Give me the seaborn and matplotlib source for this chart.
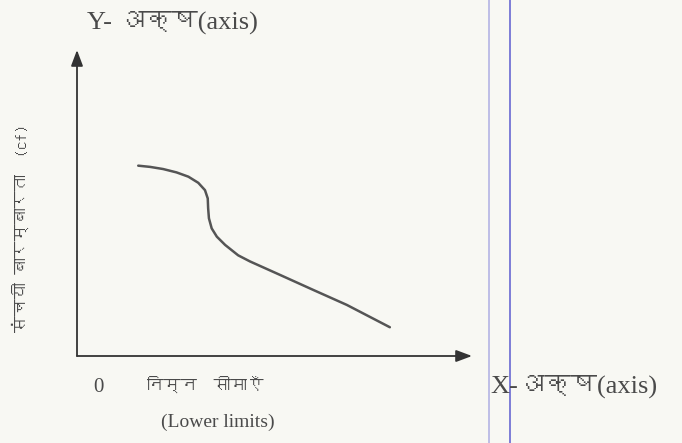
import matplotlib
matplotlib.use("Agg")
import matplotlib.pyplot as plt
import seaborn as sns
import pandas as pd
from matplotlib import font_manager
from matplotlib.ft2font import FT2Font
from matplotlib.lines import Line2D

# Ogive curve
lower_limits = [15.5, 18.5, 21.8, 25.2, 28.2, 30.7, 32.4, 33.1, 33.2, 33.4, 34.1, 35.4,
                37.5, 40.8, 43.8, 51.4, 59.8, 68.3, 79.2]
cum_freq = [62.2, 61.8, 61.1, 60.0, 58.6, 56.6, 54.2, 51.5, 48.3, 45.0, 41.7, 39.0,
            36.3, 32.9, 30.9, 26.5, 21.6, 16.7, 9.4]

y_title = "Y- अक्ष(axis)"
x_title = "X-अक्ष(axis)"
y_label = "संचयी बारम्बारता  (cf)"
x_label_hi = "निम्न  सीमाएँ"
x_label_en = "(Lower limits)"
origin_label = "0"


def find_devanagari_font():
    # look for any installed font that has Devanagari glyphs
    for f in font_manager.fontManager.ttflist:
        try:
            if FT2Font(f.fname).get_char_index(ord("अ")):
                return f.name
        except Exception:
            pass
    return None


sns.set_theme(style="white")
deva = find_devanagari_font()
serif_fam = ["Liberation Serif"] + ([deva] if deva else []) + ["DejaVu Sans"]
sans_fam = ([deva] if deva else []) + ["DejaVu Sans"]
plt.rcParams["font.family"] = serif_fam

bg = "#f8f8f3"
ink = "#4a4a4a"

fig = plt.figure(figsize=(6.82, 4.43), dpi=100, facecolor=bg)
ax = fig.add_axes([77 / 682, 87 / 443, 395 / 682, 306 / 443])
ax.set_facecolor("none")
ax.set_xlim(0, 100)
ax.set_ylim(0, 100)

df = pd.DataFrame({"x": lower_limits, "y": cum_freq})
sns.lineplot(data=df, x="x", y="y", sort=False, color="#555555", lw=1.8, ax=ax)
for l in ax.lines:
    l.set_solid_joinstyle("round")
    l.set_solid_capstyle("round")

for s in ax.spines.values():
    s.set_visible(False)
ax.set_xticks([])
ax.set_yticks([])
ax.set_xlabel("")
ax.set_ylabel("")

arrow = dict(arrowstyle="-|>,head_length=0.8,head_width=0.3", color="#333333", lw=1.3,
             shrinkA=0, shrinkB=0)
ax.annotate("", xy=(0, 1), xytext=(0, 0), xycoords="axes fraction", arrowprops=arrow,
            annotation_clip=False)
ax.annotate("", xy=(1, 0), xytext=(0, 0), xycoords="axes fraction", arrowprops=arrow,
            annotation_clip=False)

# texts
fig.text(172 / 682, 1 - 22 / 443, y_title, ha="center", va="center", fontsize=19, color=ink,
         family=serif_fam)
fig.text(490 / 682, 1 - 386 / 443, x_title, ha="left", va="center", fontsize=19, color=ink,
         family=serif_fam)
fig.text(98 / 682, 1 - 388 / 443, origin_label, ha="center", va="center", fontsize=15,
         color=ink, family=serif_fam)
fig.text(205 / 682, 1 - 384 / 443, x_label_hi, ha="center", va="center", fontsize=12,
         color=ink, family=sans_fam)
fig.text(218 / 682, 1 - 422 / 443, x_label_en, ha="center", va="center", fontsize=14,
         color=ink, family=serif_fam)
fig.text(20 / 682, 1 - 228 / 443, y_label, ha="center", va="center", rotation=90,
         fontsize=12, color=ink, family=sans_fam)

# page margin lines from the scan
fig.add_artist(Line2D([488.5 / 682] * 2, [0, 1], transform=fig.transFigure, color="#b4b4e4", lw=1.2))
fig.add_artist(Line2D([510 / 682] * 2, [0, 1], transform=fig.transFigure, color="#7474d4", lw=1.3))

fig.savefig("out.png", dpi=100, facecolor=bg)
